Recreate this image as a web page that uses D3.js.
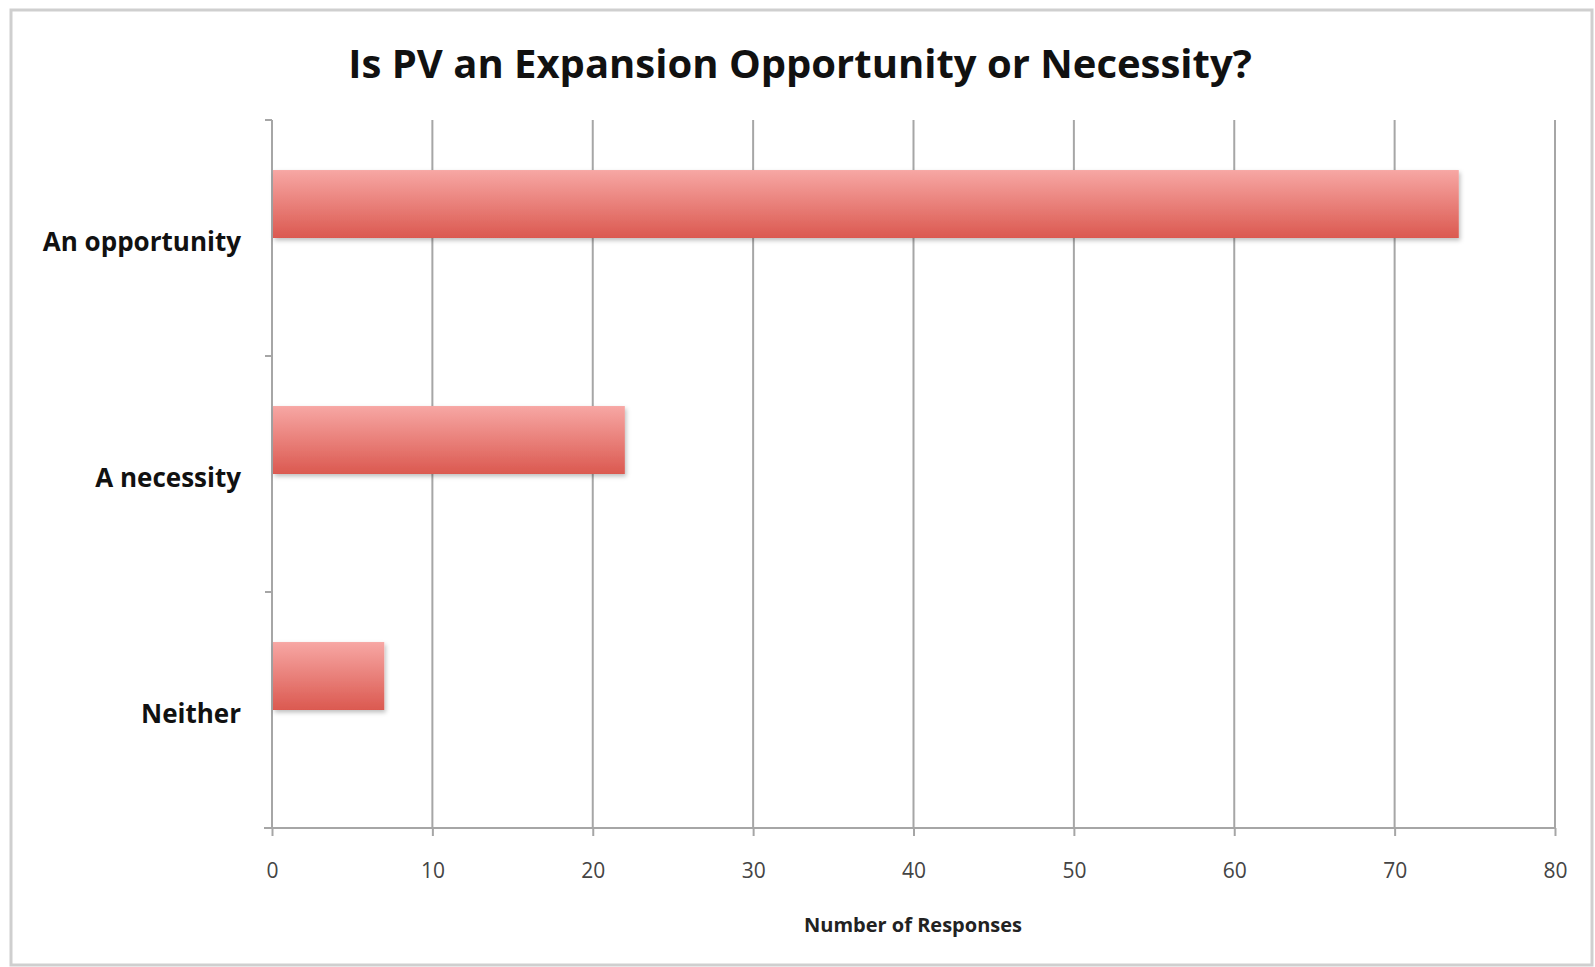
<!DOCTYPE html>
<html>
<head>
<meta charset="utf-8">
<script src="https://cdn.jsdelivr.net/npm/d3@7"></script>
<style>
  body { margin: 0; background: #fff; }
  text { font-family: "Open Sans", "DejaVu Sans", sans-serif; }
</style>
</head>
<body>
<svg id="chart" width="1595" height="967"></svg>
<script>
"use strict"

// data
var categories = ["An opportunity", "A necessity", "Neither"];
var responses = [74, 22, 7];
var xTicks = [0, 10, 20, 30, 40, 50, 60, 70, 80];
var chartTitle = "Is PV an Expansion Opportunity or Necessity?";
var xTitle = "Number of Responses";

var margin = { top: 120, right: 40, bottom: 139, left: 272 };
var width = 1555 - margin.left;
var height = 828 - margin.top;

var svg = d3.select("#chart");

// gradient + shadow for the bars
var defs = svg.append("defs");
var grad = defs.append("linearGradient").attr("id", "barGrad")
  .attr("x1", 0).attr("y1", 0).attr("x2", 0).attr("y2", 1);
grad.append("stop").attr("offset", "0%").attr("stop-color", "#f7a7a4");
grad.append("stop").attr("offset", "100%").attr("stop-color", "#db5950");

var shadow = defs.append("filter").attr("id", "shadow")
  .attr("x", "-5%").attr("y", "-20%").attr("width", "110%").attr("height", "150%");
shadow.append("feDropShadow").attr("dx", 1.5).attr("dy", 2.5)
  .attr("stdDeviation", 2).attr("flood-color", "#000").attr("flood-opacity", 0.25);

// outer frame
svg.append("rect")
  .attr("x", 11).attr("y", 10).attr("width", 1581).attr("height", 955)
  .attr("fill", "none").attr("stroke", "#cfcfcf").attr("stroke-width", 3);

svg.append("text")
  .attr("x", 800).attr("y", 78)
  .attr("text-anchor", "middle")
  .attr("font-size", 40).attr("font-weight", "bold").attr("fill", "#111")
  .text(chartTitle);

var g = svg.append("g").attr("transform", "translate(" + margin.left + "," + margin.top + ")");

var x = d3.scaleLinear().domain([0, 80]).range([0, width]);
var y = d3.scaleBand().domain(categories).range([0, height]);

// vertical gridlines
g.selectAll(".grid").data(xTicks.slice(1)).enter().append("line")
  .attr("class", "grid")
  .attr("x1", function(d) { return x(d); }).attr("x2", function(d) { return x(d); })
  .attr("y1", 0).attr("y2", height)
  .attr("stroke", "#a6a6a6").attr("stroke-width", 2);

// x axis
var xAxis = g.append("g").attr("transform", "translate(0," + height + ")")
  .call(d3.axisBottom(x).tickValues(xTicks).tickSize(8).tickPadding(27));
xAxis.select(".domain").attr("stroke", "#a6a6a6").attr("stroke-width", 2)
  .attr("d", "M-8,0H" + width);
xAxis.selectAll(".tick line").attr("stroke", "#a6a6a6").attr("stroke-width", 2);
xAxis.selectAll(".tick text").attr("font-size", 21).attr("fill", "#444")
  .attr("font-family", "'Open Sans', sans-serif");

// y axis: ticks on band boundaries
var yAxisG = g.append("g");
yAxisG.append("line").attr("x1", 0).attr("x2", 0).attr("y1", 0).attr("y2", height)
  .attr("stroke", "#a6a6a6").attr("stroke-width", 2);
var bounds = categories.map(function(c) { return y(c); });
yAxisG.selectAll(".ytick").data(bounds).enter().append("line")
  .attr("x1", -7).attr("x2", 0)
  .attr("y1", function(d) { return d; }).attr("y2", function(d) { return d; })
  .attr("stroke", "#a6a6a6").attr("stroke-width", 2);

yAxisG.selectAll(".ylab").data(categories).enter().append("text")
  .attr("x", -31)
  .attr("y", function(d) { return y(d) + y.bandwidth() / 2 + 13; })
  .attr("text-anchor", "end")
  .attr("font-size", 26).attr("font-weight", "bold").attr("fill", "#111")
  .text(function(d) { return d; });

// bars
g.selectAll(".bar").data(responses).enter().append("rect")
  .attr("class", "bar")
  .attr("x", x(0) + 1)
  .attr("y", function(d, i) { return y(categories[i]) + y.bandwidth() * 0.212; })
  .attr("width", function(d) { return x(d) - x(0) - 1; })
  .attr("height", y.bandwidth() * 0.288)
  .attr("fill", "url(#barGrad)")
  .attr("filter", "url(#shadow)");

svg.append("text")
  .attr("x", 913).attr("y", 932)
  .attr("text-anchor", "middle")
  .attr("font-size", 20).attr("font-weight", "bold").attr("fill", "#222")
  .text(xTitle);
</script>
</body>
</html>
